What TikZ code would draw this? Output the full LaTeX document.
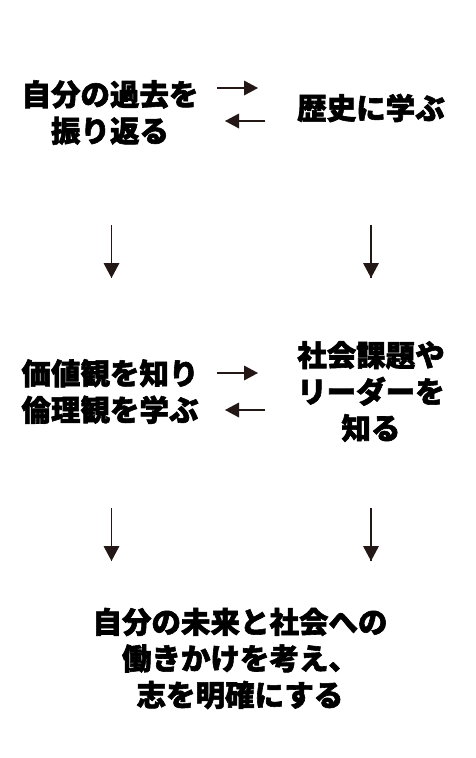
\documentclass[tikz,border=0pt]{standalone}
\usepackage{fontspec}
\newfontfamily\cjk[BoldFeatures={FakeBold=2}]{Noto Sans CJK JP}
\usetikzlibrary{arrows.meta}
\definecolor{ink}{HTML}{231815}
\tikzset{
  lbl/.style={font=\cjk\bfseries\fontsize{29.5}{36.5}\selectfont, align=center, inner sep=0pt, text=black},
  arr/.style={draw=ink, line width=1.7pt},
  headR/.pic={\fill[ink] (0,0) -- (-14,-7.5) -- (-14,7.5) -- cycle;},
  headL/.pic={\fill[ink] (0,0) -- (14,-7.5) -- (14,7.5) -- cycle;},
  headD/.pic={\fill[ink] (0,0) -- (-8,-15) -- (8,-15) -- cycle;}
}
\begin{document}
\begin{tikzpicture}[x=1pt,y=-1pt]
\useasboundingbox (0,0) rectangle (475,758);
\node[lbl] (past) at (110,112.5) {自分の過去を\\振り返る};
\node[lbl] (hist) at (371,108) {歴史に学ぶ};
\node[lbl] (val) at (110,391.5) {価値観を知り\\倫理観を学ぶ};
\node[lbl] (soc) at (371,391.5) {社会課題や\\リーダーを\\知る};
\node[lbl] (goal) at (240,658.5) {自分の未来と社会への\\働きかけを考え、\\志を明確にする};
% arrow ends
\coordinate (a1s) at (217,88); \coordinate (a1e) at (258,88);
\coordinate (a2s) at (265,121); \coordinate (a2e) at (225,121);
\coordinate (a3s) at (217,373); \coordinate (a3e) at (258,373);
\coordinate (a4s) at (265,410); \coordinate (a4e) at (225,410);
\coordinate (v1s) at (111.5,225); \coordinate (v1e) at (111.5,278);
\coordinate (v2s) at (371,225); \coordinate (v2e) at (371,278);
\coordinate (v3s) at (111.5,508); \coordinate (v3e) at (111.5,561);
\coordinate (v4s) at (371,508); \coordinate (v4e) at (371,561);
\draw[arr] (a1s) -- ([xshift=-10pt]a1e); \pic at (a1e) {headR};
\draw[arr] (a2s) -- ([xshift=10pt]a2e); \pic at (a2e) {headL};
\draw[arr] (a3s) -- ([xshift=-10pt]a3e); \pic at (a3e) {headR};
\draw[arr] (a4s) -- ([xshift=10pt]a4e); \pic at (a4e) {headL};
\draw[arr] (v1s) -- (v1e); \pic at (v1e) {headD};
\draw[arr] (v2s) -- (v2e); \pic at (v2e) {headD};
\draw[arr] (v3s) -- (v3e); \pic at (v3e) {headD};
\draw[arr] (v4s) -- (v4e); \pic at (v4e) {headD};
\end{tikzpicture}
\end{document}
